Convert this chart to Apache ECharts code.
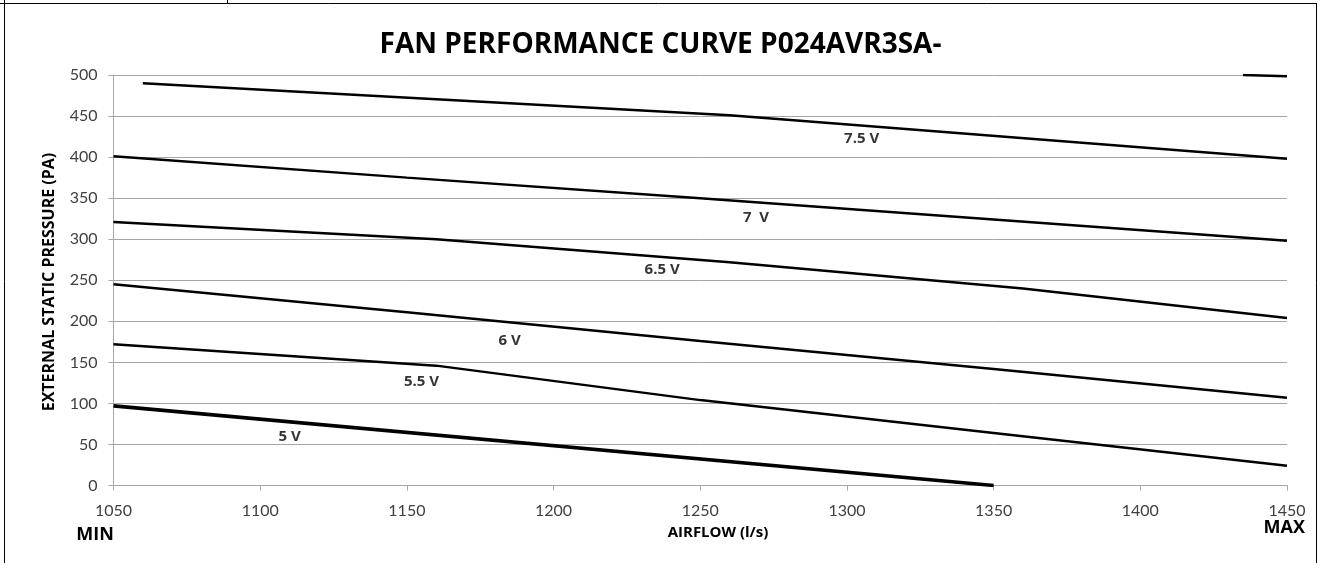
<!DOCTYPE html>
<html>
<head>
<meta charset="utf-8">
<title>Fan performance curve</title>
<script src="https://cdn.jsdelivr.net/npm/echarts@6/dist/echarts.min.js"></script>
<style>
  html, body { margin: 0; padding: 0; background: #fff; }
  #chart { width: 1321px; height: 563px; }
</style>
</head>
<body>
<div id="chart"></div>
<script>
// airflow (l/s) / external static pressure (Pa)
var v75 = [[1060, 490], [1260, 451], [1450, 398]];
var v80 = [[1435, 500], [1450, 498.5]];
var v70 = [[1050, 401], [1150, 375], [1250, 350], [1350, 324], [1450, 298]];
var v65 = [[1050, 321], [1160, 300], [1260, 272], [1360, 240], [1450, 204]];
var v60 = [[1050, 245], [1150, 211], [1250, 176], [1350, 142], [1450, 107]];
var v55 = [[1050, 172], [1160, 146], [1250, 104], [1350, 64], [1450, 24]];
var v50 = [[1050, 97], [1350, 0]];

// curve labels: [airflow, pressure, text]
var curveLabels = [
  [1305, 422, '7.5 V'],
  [1269, 326, '7  V'],
  [1237, 263, '6.5 V'],
  [1185, 176, '6 V'],
  [1155, 126, '5.5 V'],
  [1110, 59, '5 V']
];

var font = 'Lato, "Open Sans", sans-serif';
var boldFont = '"Open Sans", Lato, sans-serif';
var gridColor = '#a6a6a6';

var chart = echarts.init(document.getElementById('chart'), null, { renderer: 'canvas' });

function curve(name, data, width) {
  return {
    name: name,
    type: 'line',
    data: data,
    symbol: 'none',
    clip: true,
    silent: true,
    lineStyle: { color: '#000', width: width || 2.5 },
    z: 3
  };
}

var option = {
  animation: false,
  backgroundColor: '#fff',
  title: {
    text: 'FAN PERFORMANCE CURVE P024AVR3SA-',
    left: 'center',
    top: 26,
    textStyle: { fontFamily: boldFont, fontSize: 28, fontWeight: 'bold', color: '#000' }
  },
  grid: { left: 113.5, right: 34, top: 75, bottom: 77.5 },
  xAxis: {
    type: 'value',
    min: 1050,
    max: 1450,
    interval: 50,
    axisLine: { show: true, lineStyle: { color: gridColor, width: 1 } },
    axisTick: { show: true, length: 5, lineStyle: { color: gridColor } },
    splitLine: { show: false },
    axisLabel: {
      fontFamily: font, fontSize: 16, color: '#404040', margin: 17,
      formatter: function (v) { return String(v); }
    }
  },
  yAxis: {
    type: 'value',
    min: 0,
    max: 500,
    interval: 50,
    axisLine: { show: true, lineStyle: { color: gridColor, width: 1 } },
    axisTick: { show: true, length: 5, lineStyle: { color: gridColor } },
    splitLine: { show: true, lineStyle: { color: gridColor, width: 1 } },
    axisLabel: { fontFamily: font, fontSize: 16, color: '#404040', margin: 16 }
  },
  series: [
    curve('7.5 V', v75),
    curve('8 V', v80),
    curve('7 V', v70),
    curve('6.5 V', v65),
    curve('6 V', v60),
    curve('5.5 V', v55),
    curve('5 V', v50, 3.6),
    {
      name: 'labels',
      type: 'scatter',
      symbolSize: 0,
      silent: true,
      data: curveLabels.map(function (d) { return { value: [d[0], d[1]], label: { formatter: d[2] } }; }),
      label: {
        show: true,
        position: 'inside',
        fontFamily: boldFont,
        fontSize: 15,
        fontWeight: 'bold',
        color: '#000'
      },
      z: 4
    }
  ],
  graphic: [
    // outer frame
    { type: 'line', shape: { x1: 0, y1: 3.5, x2: 1317, y2: 3.5 }, style: { stroke: '#000', lineWidth: 1 } },
    { type: 'line', shape: { x1: 4.5, y1: 0, x2: 4.5, y2: 563 }, style: { stroke: '#000', lineWidth: 1 } },
    { type: 'line', shape: { x1: 227.5, y1: 0, x2: 227.5, y2: 3.5 }, style: { stroke: '#000', lineWidth: 1 } },
    { type: 'line', shape: { x1: 1316.5, y1: 3.5, x2: 1316.5, y2: 563 }, style: { stroke: '#000', lineWidth: 1 } },
    {
      type: 'text',
      x: 49, y: 282,
      rotation: Math.PI / 2,
      style: {
        text: 'EXTERNAL STATIC PRESSURE (PA)',
        font: 'bold 16px ' + boldFont,
        fill: '#000',
        textAlign: 'center',
        textVerticalAlign: 'middle'
      }
    },
    {
      type: 'text',
      x: 718, y: 533,
      style: { text: 'AIRFLOW (l/s)', font: 'bold 15px ' + boldFont, fill: '#000', textAlign: 'center', textVerticalAlign: 'middle' }
    },
    {
      type: 'text',
      x: 95, y: 535,
      style: { text: 'MIN', font: 'bold 18px ' + boldFont, fill: '#000', textAlign: 'center', textVerticalAlign: 'middle' }
    },
    {
      type: 'text',
      x: 1305, y: 528,
      style: { text: 'MAX', font: 'bold 18px ' + boldFont, fill: '#000', textAlign: 'right', textVerticalAlign: 'middle' }
    }
  ]
};

chart.setOption(option);
</script>
</body>
</html>
